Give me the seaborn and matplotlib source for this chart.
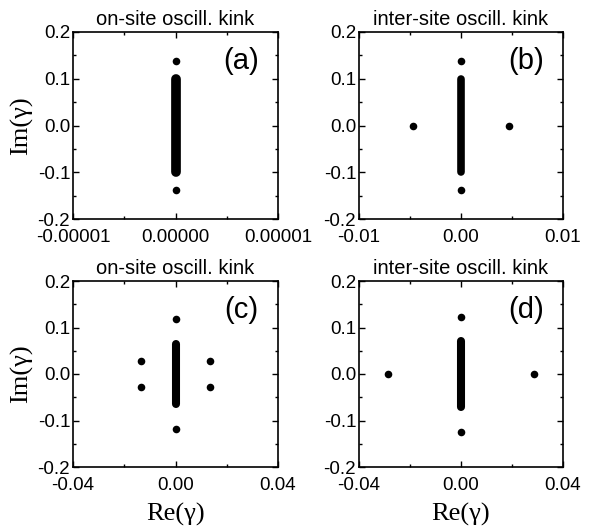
import numpy as np
import pandas as pd
import matplotlib
matplotlib.use("Agg")
import matplotlib.pyplot as plt
import seaborn as sns
from matplotlib.ticker import FixedLocator, MultipleLocator, FormatStrFormatter

sns.set_theme(style="ticks")
plt.rcParams['font.family'] = ['Liberation Sans', 'DejaVu Sans']

# ---------------- data ----------------
titles = ["on-site oscill. kink", "inter-site oscill. kink",
          "on-site oscill. kink", "inter-site oscill. kink"]
panel_tags = ["(a)", "(b)", "(c)", "(d)"]

# continuous phonon band (edges of Im(gamma) at Re=0)
band_lo = [-0.100, -0.100, -0.065, -0.070]
band_hi = [0.100, 0.100, 0.065, 0.070]

# isolated eigenvalues (Re, Im)
a_re = [0.0, 0.0]
a_im = [0.137, -0.137]
b_re = [0.0, 0.0, -0.0047, 0.0047]
b_im = [0.137, -0.137, 0.0, 0.0]
c_re = [0.0, 0.0, -0.0135, -0.0135, 0.0135, 0.0135]
c_im = [0.119, -0.119, 0.0275, -0.0275, 0.0275, -0.0275]
d_re = [0.0, 0.0, -0.0287, 0.0287]
d_im = [0.123, -0.124, 0.0, 0.0]

xlims = [(-0.00001, 0.00001), (-0.01, 0.01), (-0.04, 0.04), (-0.04, 0.04)]
xtick_fmt = ["%.5f", "%.2f", "%.2f", "%.2f"]
ylims = (-0.2, 0.2)
yticks = [-0.2, -0.1, 0.0, 0.1, 0.2]

points = [(a_re, a_im), (b_re, b_im), (c_re, c_im), (d_re, d_im)]

# ---------------- figure ----------------
W, H = 589, 527
fig = plt.figure(figsize=(W / 100, H / 100), dpi=100)

boxes = [(73, 32, 278, 219), (359, 32, 563, 219),
         (73, 281, 278, 467), (359, 281, 563, 467)]
band_lw = [7.0, 5.5, 5.8, 5.8]

for i, (x0, y0, x1, y1) in enumerate(boxes):
    ax = fig.add_axes([x0 / W, 1 - y1 / H, (x1 - x0) / W, (y1 - y0) / H])
    ax.set_facecolor("white")
    band_df = pd.DataFrame({"re": [0.0, 0.0], "im": [band_lo[i], band_hi[i]]})
    sns.lineplot(data=band_df, x="re", y="im", ax=ax, estimator=None, sort=False,
                 color="black", lw=band_lw[i], solid_capstyle="round")
    re, im = points[i]
    pts = pd.DataFrame({"re": re, "im": im})
    sns.scatterplot(data=pts, x="re", y="im", ax=ax, color="black", s=30,
                    linewidth=0, zorder=3)

    xl = xlims[i]
    ax.set_xlim(*xl)
    ax.set_ylim(*ylims)
    ax.xaxis.set_major_locator(FixedLocator([xl[0], 0.0, xl[1]]))
    ax.xaxis.set_minor_locator(FixedLocator([xl[0] / 2, xl[1] / 2]))
    ax.xaxis.set_major_formatter(FormatStrFormatter(xtick_fmt[i]))
    ax.yaxis.set_major_locator(FixedLocator(yticks))
    ax.yaxis.set_minor_locator(MultipleLocator(0.05))
    ax.yaxis.set_major_formatter(FormatStrFormatter("%.1f"))

    ax.tick_params(which="both", direction="in", top=True, right=True,
                   colors="black", width=1.0)
    ax.tick_params(which="major", length=4, labelsize=13.5)
    ax.tick_params(which="minor", length=2.5)
    ax.tick_params(axis="x", which="major", pad=7.5)
    ax.tick_params(axis="y", which="major", pad=2)
    for s in ax.spines.values():
        s.set_linewidth(1.2)
        s.set_color("black")

    ax.set_title(titles[i], fontsize=14.5, pad=5, color="black")
    ax.text(0.82, 0.845, panel_tags[i], transform=ax.transAxes, ha="center",
            va="center", fontsize=21, color="black")

    if i in (0, 2):
        ax.set_ylabel("Im(γ)", family=["Liberation Serif", "DejaVu Serif"],
                      fontsize=19, labelpad=3, color="black")
    else:
        ax.set_ylabel("")
    if i in (2, 3):
        ax.set_xlabel("Re(γ)", family=["Liberation Serif", "DejaVu Serif"],
                      fontsize=19, labelpad=6, color="black")
    else:
        ax.set_xlabel("")

fig.savefig("out.png", dpi=100, facecolor="white")
